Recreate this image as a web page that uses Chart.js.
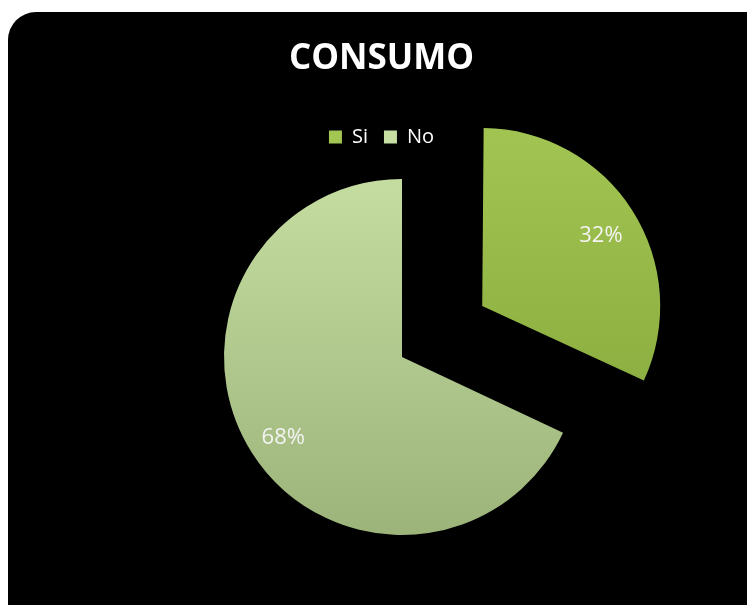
<!DOCTYPE html>
<html>
<head>
<meta charset="utf-8">
<script src="https://cdn.jsdelivr.net/npm/chart.js@4.4.1/dist/chart.umd.min.js"></script>
<style>
  html, body { margin: 0; padding: 0; background: #fff; }
  #wrap { position: relative; width: 747px; height: 605px; }
</style>
</head>
<body>
<div id="wrap"><canvas id="chart"></canvas></div>
<script>
// data
const labels = ['Si', 'No'];
const values = [32, 68];

// how far each slice is pulled out of the pie (px)
const explode = [95, 0];

// slice gradients: [top, bottom]
const sliceColors = [
  ['#a3c653', '#85a73b'],
  ['#c7dfa2', '#9cb47a']
];

const PIE_CX = 402, PIE_CY = 357, PIE_R = 178;

function sliceFill(ctx) {
  const chart = ctx.chart;
  const c = sliceColors[ctx.dataIndex] || sliceColors[0];
  const g = chart.ctx.createLinearGradient(0, PIE_CY - PIE_R - 20, 0, PIE_CY + PIE_R);
  g.addColorStop(0, c[0]);
  g.addColorStop(1, c[1]);
  return g;
}

// black rounded panel behind everything
const panelBg = {
  id: 'panelBg',
  beforeDraw(chart) {
    const ctx = chart.ctx;
    ctx.save();
    ctx.fillStyle = '#000';
    ctx.beginPath();
    ctx.roundRect(8, 12, 770, 620, 28);
    ctx.fill();
    ctx.restore();
  }
};

// centre the pie where the original sits (title stays centred on the panel).
// the area is kept large so the doughnut controller's offset spacing stays positive.
const placePie = {
  id: 'placePie',
  afterLayout(chart) {
    const half = PIE_R + 250;
    const a = chart.chartArea;
    a.left = PIE_CX - half; a.right = PIE_CX + half;
    a.top = PIE_CY - half; a.bottom = PIE_CY + half;
    a.width = a.right - a.left; a.height = a.bottom - a.top;
  }
};

// arc offset in v4 also grows the radius a bit; undo that so both slices match
const fixExplode = {
  id: 'fixExplode',
  afterDatasetUpdate(chart, args) {
    const meta = chart.getDatasetMeta(args.index);
    meta.data.forEach((arc, i) => {
      const shift = explode[i] || 0;
      if (!shift) return;
      const fix = 1 - Math.sin(Math.min(Math.PI, arc.circumference));
      arc.outerRadius -= shift * fix;
    });
  }
};

// percentage labels inside slices
const pctLabels = {
  id: 'pctLabels',
  afterDatasetsDraw(chart) {
    const ctx = chart.ctx;
    const meta = chart.getDatasetMeta(0);
    const total = values.reduce((s, v) => s + v, 0);
    ctx.save();
    ctx.fillStyle = '#f4f4f4';
    ctx.font = '22px "Open Sans"';
    ctx.textAlign = 'center';
    ctx.textBaseline = 'middle';
    meta.data.forEach((arc, i) => {
      const p = arc.getProps(['x', 'y', 'startAngle', 'endAngle'], true);
      const mid = (p.startAngle + p.endAngle) / 2;
      const r = PIE_R * 0.79 + (explode[i] || 0);
      ctx.fillText(Math.round(values[i] / total * 100) + '%',
        p.x + Math.cos(mid) * r, p.y + Math.sin(mid) * r + 5);
    });
    ctx.restore();
  }
};

new Chart(document.getElementById('chart'), {
  type: 'pie',
  data: {
    labels,
    datasets: [{
      data: values,
      backgroundColor: sliceFill,
      borderWidth: 0,
      offset: explode.map(v => v * 4),
      hoverOffset: 0,
      radius: PIE_R,
      clip: false
    }]
  },
  options: {
    responsive: true,
    maintainAspectRatio: false,
    animation: false,
    layout: { padding: { top: 38, left: 16, right: 0, bottom: 10 } },
    plugins: {
      title: {
        display: true,
        text: 'CONSUMO',
        color: '#fff',
        font: { family: 'Open Sans', size: 35, weight: 'bold', lineHeight: 1.2 },
        padding: { top: 0, bottom: 31 }
      },
      legend: {
        position: 'top',
        labels: {
          color: '#fff',
          font: { family: 'Open Sans', size: 20 },
          boxWidth: 13,
          boxHeight: 13,
          padding: 16
        }
      },
      tooltip: { enabled: false }
    }
  },
  plugins: [panelBg, placePie, fixExplode, pctLabels]
});
</script>
</body>
</html>
